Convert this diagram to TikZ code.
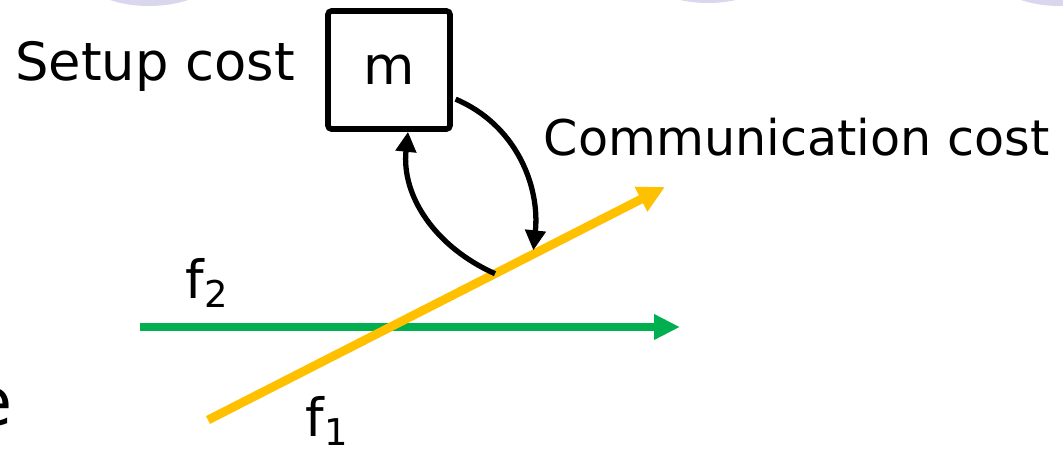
\documentclass[tikz,border=0pt]{standalone}
\usepackage{fontspec}
\setmainfont{DejaVu Sans}
\usetikzlibrary{calc,positioning,arrows.meta}
\definecolor{flowgreen}{RGB}{0,176,80}
\definecolor{flowgold}{RGB}{255,192,0}
\definecolor{bubble}{RGB}{217,215,238}

\begin{document}
\begin{tikzpicture}[
  lbl/.style={font=\fontsize{15}{18}\selectfont, inner sep=0pt},
  flow/.style={line width=2.3pt},
  cost/.style={-{Triangle[length=0.2cm, width=0.2cm]}, line width=1.5pt},
]
  \useasboundingbox (0,0) rectangle (10.63,4.5);
  \clip (0,0) rectangle (10.63,4.5);

  % Bubbles cut by the top edge
  \fill[bubble] (1.49,4.74) ellipse [x radius=0.65, y radius=0.30];
  \fill[bubble] (7.08,4.77) ellipse [x radius=0.64, y radius=0.30];
  \fill[bubble] (10.60,4.74) ellipse [x radius=0.65, y radius=0.30];

  % Machine and labels
  \node[lbl, draw, line width=1.6pt, rounded corners=1pt,
    minimum width=1.22cm, minimum height=1.18cm] (mach) at (3.89,3.80) {m};
  \node[lbl, anchor=base] (setup) at (1.55,3.69) {Setup cost};
  \node[lbl, font=\fontsize{14}{17}\selectfont, anchor=base west] (comm)
    at (5.43,2.95) {Communication cost};
  \node[lbl, anchor=base west] (ftwo) at (1.85,1.52) {f\textsubscript{2}};
  \node[lbl, anchor=base west] (fone) at (3.05,0.14) {f\textsubscript{1}};
  \node[lbl, font=\fontsize{19}{22}\selectfont, anchor=base east] (ecut)
    at (0.13,0.25) {e};

  % Flows
  \coordinate (gs) at (1.40,1.23);
  \coordinate (ge) at (6.80,1.23);
  \coordinate (ys) at (2.08,0.30);
  \coordinate (ye) at (6.65,2.63);
  \draw[flow, flowgreen, -{Triangle[length=0.26cm, width=0.24cm]}] (gs) -- (ge);
  \draw[flow, flowgold, line width=2.5pt,
    -{Triangle[length=0.27cm, width=0.26cm]}] (ys) -- (ye);

  % Cost arcs
  \coordinate (lo) at ($(ys)!0.628!(ye)$);
  \coordinate (hi) at ($(ys)!0.711!(ye)$);
  \draw[cost] (lo) to[out=156, in=-96] ([xshift=0.19cm]mach.south);
  \draw[cost, shorten <=0.03cm, shorten >=0.04cm]
    ([yshift=-0.28cm]mach.east) to[out=-23, in=84] (hi);
\end{tikzpicture}
\end{document}
